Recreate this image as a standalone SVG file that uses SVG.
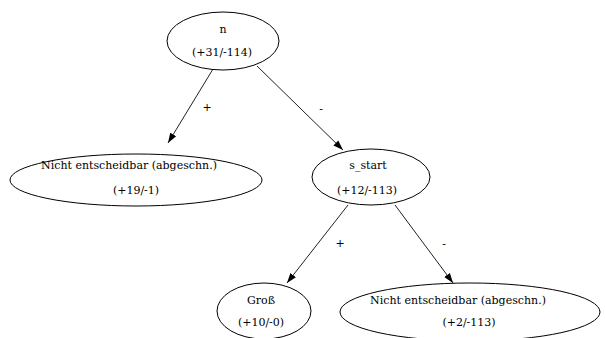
<svg xmlns="http://www.w3.org/2000/svg" width="606" height="338" viewBox="0 0 606 338">
<defs>
<style>
.node ellipse{fill:none;stroke:#000;stroke-width:1}
.t{font-family:'DejaVu Serif','Liberation Serif',serif;font-size:11px;fill:#000;text-anchor:middle}
.edge line{stroke:#222;stroke-width:1}
</style>
<marker id="arr" viewBox="0 0 10 10" refX="10" refY="5" markerWidth="10" markerHeight="10" markerUnits="userSpaceOnUse" orient="auto">
<path d="M0,1.5 L10,5 L0,8.5 Z" fill="#000"/>
</marker>
</defs>
<rect width="606" height="338" fill="#fff"/>
<g id="edges" class="edge">
<line x1="213" y1="69" x2="168" y2="143" marker-end="url(#arr)"/>
<text class="t" x="207" y="111">+</text>
<line x1="257" y1="66" x2="343" y2="150" marker-end="url(#arr)"/>
<text class="t" x="321" y="113">-</text>
<line x1="348" y1="205" x2="287" y2="283" marker-end="url(#arr)"/>
<text class="t" x="340" y="247">+</text>
<line x1="395" y1="205" x2="453" y2="283" marker-end="url(#arr)"/>
<text class="t" x="444" y="248">-</text>
</g>
<g id="n" class="node">
<ellipse cx="223" cy="41" rx="56" ry="29"/>
<text class="t" x="223" y="33">n</text>
<text class="t" x="222" y="56">(+31/-114)</text>
</g>
<g id="ne1" class="node">
<ellipse cx="136" cy="180" rx="126" ry="26"/>
<text class="t" x="129" y="169">Nicht entscheidbar (abgeschn.)</text>
<text class="t" x="136" y="194">(+19/-1)</text>
</g>
<g id="s_start" class="node">
<ellipse cx="371" cy="177" rx="59" ry="28"/>
<text class="t" x="368" y="169">s_start</text>
<text class="t" x="367" y="194">(+12/-113)</text>
</g>
<g id="gross" class="node">
<ellipse cx="264" cy="311" rx="47" ry="28"/>
<text class="t" x="261" y="304">Groß</text>
<text class="t" x="261" y="326">(+10/-0)</text>
</g>
<g id="ne2" class="node">
<ellipse cx="470" cy="312" rx="130" ry="29"/>
<text class="t" x="458" y="304">Nicht entscheidbar (abgeschn.)</text>
<text class="t" x="469" y="326">(+2/-113)</text>
</g>
</svg>
